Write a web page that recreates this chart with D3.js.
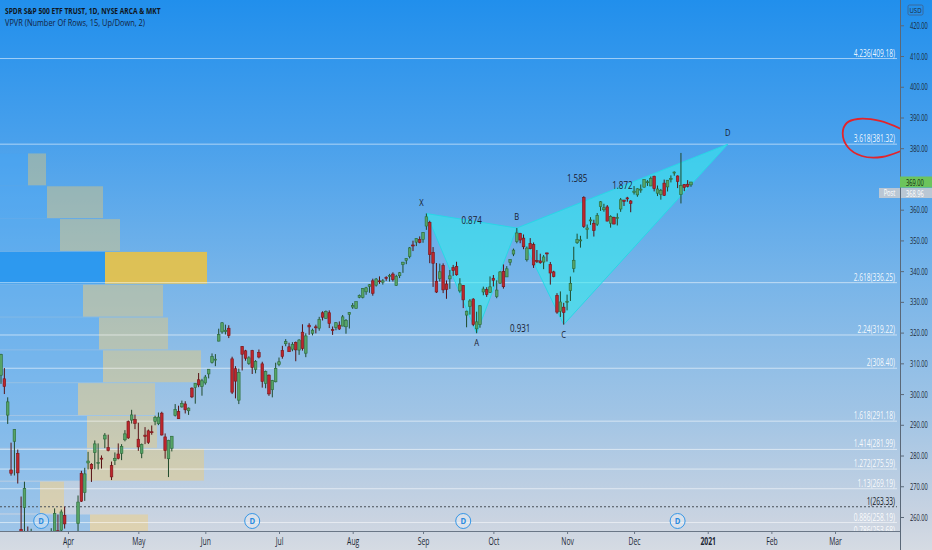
<!DOCTYPE html>
<html>
<head>
<meta charset="utf-8">
<script src="https://cdn.jsdelivr.net/npm/d3@7"></script>
<style>
  body { margin: 0; background: #d6dce4; }
  svg { display: block; font-family: "Open Sans", sans-serif; }
</style>
</head>
<body>
<div id="chart"></div>
<script>
// SPY daily candles, 2 Mar 2020 .. 24 Dec 2020 (index 0 = 2 Mar, 22 = 1 Apr)
const days = [
  "03-02","03-03","03-04","03-05","03-06","03-09","03-10","03-11","03-12","03-13","03-16","03-17","03-18","03-19","03-20","03-23","03-24","03-25","03-26","03-27","03-30","03-31",
  "04-01","04-02","04-03","04-06","04-07","04-08","04-09","04-13","04-14","04-15","04-16","04-17","04-20","04-21","04-22","04-23","04-24","04-27","04-28","04-29","04-30",
  "05-01","05-04","05-05","05-06","05-07","05-08","05-11","05-12","05-13","05-14","05-15","05-18","05-19","05-20","05-21","05-22","05-26","05-27","05-28","05-29",
  "06-01","06-02","06-03","06-04","06-05","06-08","06-09","06-10","06-11","06-12","06-15","06-16","06-17","06-18","06-19","06-22","06-23","06-24","06-25","06-26","06-29","06-30",
  "07-01","07-02","07-06","07-07","07-08","07-09","07-10","07-13","07-14","07-15","07-16","07-17","07-20","07-21","07-22","07-23","07-24","07-27","07-28","07-29","07-30","07-31",
  "08-03","08-04","08-05","08-06","08-07","08-10","08-11","08-12","08-13","08-14","08-17","08-18","08-19","08-20","08-21","08-24","08-25","08-26","08-27","08-28","08-31",
  "09-01","09-02","09-03","09-04","09-08","09-09","09-10","09-11","09-14","09-15","09-16","09-17","09-18","09-21","09-22","09-23","09-24","09-25","09-28","09-29","09-30",
  "10-01","10-02","10-05","10-06","10-07","10-08","10-09","10-12","10-13","10-14","10-15","10-16","10-19","10-20","10-21","10-22","10-23","10-26","10-27","10-28","10-29","10-30",
  "11-02","11-03","11-04","11-05","11-06","11-09","11-10","11-11","11-12","11-13","11-16","11-17","11-18","11-19","11-20","11-23","11-24","11-25","11-27","11-30",
  "12-01","12-02","12-03","12-04","12-07","12-08","12-09","12-10","12-11","12-14","12-15","12-16","12-17","12-18","12-21","12-22","12-23","12-24"
];
const open = [
  298.21,309.50,306.12,304.98,293.15,275.30,284.64,280.70,256.00,263.09,241.18,245.04,236.25,239.25,242.53,228.19,234.42,244.87,249.52,255.52,255.70,260.56,
  247.98,245.19,250.76,257.84,274.21,267.96,277.58,277.14,280.98,277.57,279.15,285.38,282.61,276.73,278.35,280.49,280.73,285.12,291.02,291.53,291.71,
  285.31,280.74,286.64,288.04,287.75,291.09,290.34,293.79,286.06,278.95,282.37,293.05,294.35,295.82,296.79,294.57,301.93,302.12,304.65,302.46,
  303.62,306.55,310.24,311.11,317.23,320.22,320.30,321.42,311.46,308.24,298.02,315.48,314.07,310.01,314.17,307.99,313.49,309.84,303.47,306.16,301.41,303.99,
  309.57,314.24,316.37,315.38,314.61,316.84,314.31,320.13,313.30,322.41,319.79,321.88,321.43,326.45,324.62,326.47,320.95,321.63,322.43,322.12,321.90,325.90,
  328.32,327.86,331.47,331.48,333.28,335.06,336.85,335.44,336.84,336.41,337.94,338.34,339.05,335.36,338.51,342.12,343.53,344.76,348.51,349.44,350.35,
  350.35,354.67,355.87,346.13,336.71,337.55,341.82,335.82,337.49,341.12,341.51,333.56,335.37,325.70,328.57,330.90,321.22,322.58,333.22,333.97,333.09,
  337.69,331.70,336.06,339.91,338.12,342.85,345.56,349.59,352.28,350.75,343.71,348.96,348.65,343.46,343.33,342.96,345.93,342.13,339.76,332.10,326.91,328.28,
  330.20,333.69,340.86,349.24,349.93,363.97,353.49,356.40,355.58,355.27,360.98,359.97,360.91,355.60,357.50,357.28,360.21,363.13,363.84,362.83,
  365.57,364.82,366.68,367.32,369.02,367.72,370.88,365.37,364.90,368.64,367.40,369.82,371.94,370.97,364.97,368.21,368.28,368.08
];
const high = [
  309.16,313.84,313.10,308.47,298.94,284.19,288.52,281.94,266.66,271.48,256.90,256.17,248.37,247.38,244.47,229.68,244.10,256.35,262.80,260.81,262.43,263.33,
  249.24,252.68,253.32,267.00,275.03,276.00,281.20,277.51,284.90,283.94,280.03,287.30,286.79,278.04,281.00,283.94,283.70,288.27,291.40,294.88,293.32,
  290.66,283.90,289.25,288.46,289.78,292.95,294.00,294.24,287.19,285.11,286.33,296.75,296.21,297.87,297.67,295.63,302.19,303.57,306.84,304.96,
  306.21,308.13,313.22,313.00,321.27,323.41,322.59,322.39,312.15,309.08,308.28,315.64,314.39,312.30,314.38,311.05,314.50,310.51,307.64,306.39,304.61,310.20,
  311.89,315.70,317.88,316.70,316.89,317.10,317.88,322.71,319.76,323.04,321.28,322.57,325.13,326.93,327.20,327.23,321.99,323.41,323.64,325.73,324.41,326.63,
  329.62,330.06,332.39,334.46,334.88,335.77,337.54,337.77,338.29,337.42,338.34,339.10,339.61,338.80,339.72,343.00,344.21,347.86,349.90,350.72,351.30,
  352.71,358.75,356.38,347.83,342.64,342.46,342.53,336.97,340.38,342.02,343.06,337.70,335.49,327.13,330.90,331.20,326.80,328.98,334.96,334.77,338.28,
  338.74,337.02,339.96,342.17,341.63,343.85,347.35,354.02,352.47,351.93,348.02,350.75,349.33,346.88,345.67,345.24,345.99,342.98,340.12,332.84,333.40,329.69,
  332.36,338.25,347.94,352.19,351.51,364.38,355.18,357.56,356.72,358.90,362.78,361.92,361.50,358.18,357.72,358.82,363.81,363.16,364.18,363.12,
  367.68,366.96,368.19,369.85,369.62,370.78,371.05,367.86,366.74,369.80,369.59,371.16,372.46,371.15,378.46,368.33,369.62,369.03
];
const low = [
  294.46,297.57,303.33,300.01,290.28,273.45,273.50,270.89,247.68,248.52,237.36,237.07,228.02,232.22,228.50,218.26,233.80,239.75,249.05,251.05,253.53,256.22,
  244.53,244.59,245.22,248.17,264.89,265.25,275.47,271.41,275.51,275.46,275.76,282.40,281.35,272.02,276.91,278.75,278.50,284.62,285.40,290.41,288.59,
  281.52,279.13,283.71,283.78,286.76,289.86,289.88,286.52,278.97,272.99,281.34,292.70,291.95,295.57,293.69,293.22,298.69,296.87,302.24,299.47,
  303.06,305.10,309.94,309.08,317.16,319.63,319.39,318.22,300.01,298.60,296.74,307.67,310.86,309.51,306.53,306.75,311.61,302.10,301.88,299.42,298.93,303.82,
  309.07,311.51,315.56,313.87,313.93,310.68,312.76,314.13,312.00,319.27,319.09,319.74,320.62,323.94,324.50,321.48,319.25,320.77,320.85,322.08,319.64,321.33,
  327.73,327.86,331.18,331.13,332.30,332.96,332.01,334.98,335.85,335.62,336.85,336.61,336.62,335.22,337.75,339.45,342.27,344.17,346.53,348.15,349.06,
  349.24,353.43,342.59,334.87,332.88,336.61,332.85,331.00,334.22,338.47,338.52,332.99,327.97,321.73,325.86,322.10,319.80,321.58,332.15,331.62,332.88,
  335.01,331.19,335.90,334.31,338.09,341.86,344.89,349.06,349.09,347.14,343.13,347.10,341.04,342.64,342.40,340.65,343.13,335.62,337.99,326.13,325.09,322.60,
  327.24,330.29,339.59,348.86,347.65,354.06,350.51,355.06,351.26,354.71,359.59,359.33,356.24,354.15,355.25,354.87,359.29,361.20,362.58,359.17,
  364.93,364.20,365.50,367.22,367.72,367.67,365.95,364.43,363.26,364.47,365.92,368.87,371.05,367.02,362.03,366.03,367.22,367.45
];
const close = [
  309.09,300.24,312.86,302.46,297.46,274.23,288.42,274.36,248.11,269.32,239.85,252.80,240.00,240.51,228.80,222.95,243.15,246.79,261.20,253.42,261.65,257.75,
  246.15,251.83,248.19,264.86,265.13,274.03,278.20,275.66,283.79,277.76,279.10,286.64,281.59,273.04,279.10,279.08,282.97,287.05,285.73,293.21,290.48,
  282.79,283.57,286.19,284.25,287.68,292.44,292.50,286.67,281.60,284.97,286.28,295.00,291.97,296.93,294.88,295.44,299.08,303.53,302.97,304.32,
  305.55,308.08,312.18,311.36,319.34,323.20,320.79,319.00,300.61,304.21,307.05,312.96,311.66,311.78,308.64,310.62,312.05,304.09,307.35,300.05,304.46,308.36,
  310.52,312.23,317.05,313.78,316.18,314.38,317.59,314.84,318.92,321.85,320.79,321.72,324.32,325.01,326.86,322.96,320.88,323.22,321.17,325.12,323.96,326.52,
  328.79,330.06,332.11,334.33,334.57,335.57,332.80,337.44,336.83,336.84,337.91,338.64,337.23,338.28,339.48,342.92,344.12,347.57,348.33,350.58,349.31,
  352.60,357.70,345.39,342.57,333.21,339.79,333.89,334.06,338.46,340.17,338.82,335.84,330.65,326.97,330.30,322.64,323.50,328.73,334.19,332.37,334.89,
  337.04,333.84,339.76,334.93,340.76,343.78,346.85,352.43,350.13,347.93,347.50,347.29,342.01,343.38,342.73,344.61,345.78,339.39,338.22,326.66,329.98,326.54,
  330.20,336.03,343.54,350.24,350.16,354.56,354.04,356.67,353.21,358.10,362.57,360.62,356.28,357.78,355.33,357.46,363.22,362.66,363.67,362.06,
  366.02,366.79,366.69,369.85,369.09,370.17,366.85,366.73,366.30,364.66,369.59,370.17,372.24,369.18,367.86,367.24,367.57,369.00
];
const firstDayOffset = -22;   // 2 Mar sits 22 sessions before 1 Apr

// time axis: month labels and their session index (1 Apr = 0)
const monthLabels = ["Apr","May","Jun","Jul","Aug","Sep","Oct","Nov","Dec","2021","Feb","Mar"];
const monthStart  = [0, 21, 41, 63, 85, 106, 127, 149, 169, 191, 210, 229];

// price axis ticks
const priceTicks = d3.range(260, 421, 10);
const lastClose = 369.00, postPrice = 368.96;

// VPVR, 15 rows from 218.26 to 378.46, bottom row first (M shares)
const vpLow = 218.26, vpHigh = 378.46;
const vpUp   = [620, 540, 700, 900, 400, 870, 870, 780, 1030, 990, 830, 1050, 600, 470, 280];
const vpDown = [480, 560, 450, 580, 240, 1170, 700, 770, 980, 690, 800, 1020, 600, 560, 180];

// fibonacci extension levels
const fibRatios = ["0.786", "0.886", "1", "1.13", "1.272", "1.414", "1.618", "2", "2.24", "2.618", "3.618", "4.236"];
const fibPrices = [253.68, 258.19, 263.33, 269.19, 275.59, 281.99, 291.18, 308.40, 319.22, 336.25, 381.32, 409.18];

// XABCD pattern
const patLabels = ["X", "A", "B", "C", "D"];
const patIdx    = [107, 122, 134, 148, 197];
const patPrice  = [358.75, 319.80, 354.02, 322.60, 381.32];
const patRatios = ["0.874", "0.931", "1.585", "1.872"];
const patRatioPairs = [[0, 2], [1, 3], [0, 4], [2, 4]];

// dividend markers (session index)
const divIdx = [-8, 55, 118, 182];

// hand drawn red loop round the 3.618 level (session index, price)
const loopIdx   = [248.7, 242.4, 235.8, 232.5, 231.3, 232.8, 237.0, 243.0, 248.7];
const loopPrice = [386.25, 388.86, 389.51, 388.2, 384.95, 380.4, 377.47, 377.14, 379.1];

// ---------------------------------------------------------------
const W = 932, H = 550, PR = 900, PB = 531;
const SX = 0.68;   // labels in the picture are narrow

const x = d3.scaleLinear().domain([-20.3, 248.4]).range([0, PR]);
const y = d3.scaleLinear().domain([255.44, 428.23]).range([PB, 0]);
const vx = d3.scaleLinear().domain([0, 2070]).range([0, 207]);

const svg = d3.select("#chart").append("svg")
    .attr("width", W)
    .attr("height", H);

const defs = svg.append("defs");
const grad = defs.append("linearGradient").attr("id", "bg")
    .attr("x1", 0).attr("y1", 0).attr("x2", 0).attr("y2", 1);
[[0, "rgb(33,143,236)"], [0.25, "rgb(72,160,236)"], [0.5, "rgb(118,180,233)"],
 [0.75, "rgb(160,196,229)"], [0.95, "rgb(203,212,225)"], [1, "rgb(213,219,227)"]]
  .forEach(([o, c]) => grad.append("stop").attr("offset", o).attr("stop-color", c));
defs.append("clipPath").attr("id", "plotclip")
  .append("rect").attr("width", PR).attr("height", PB);

svg.append("rect").attr("width", W).attr("height", H).attr("fill", "url(#bg)");

function label(parent, px, py, str, o = {}) {
  return parent.append("text")
    .attr("transform", `translate(${px},${py}) scale(${o.sx || SX},1)`)
    .attr("text-anchor", o.anchor || "start")
    .attr("font-size", o.size || 9)
    .attr("font-weight", o.weight || "normal")
    .attr("fill", o.fill || "#131722")
    .text(str);
}

const plot = svg.append("g").attr("clip-path", "url(#plotclip)");

// volume profile
const rowH = (vpHigh - vpLow) / vpUp.length;
const poc = d3.maxIndex(vpUp, (d, i) => d + vpDown[i]);
const vp = plot.append("g");
vpUp.forEach((u, i) => {
  const top = y(vpLow + (i + 1) * rowH), bot = y(vpLow + i * rowH);
  const hot = i === poc;
  vp.append("rect").attr("x", 0).attr("y", top + 0.5).attr("width", vx(u)).attr("height", bot - top - 1)
    .attr("fill", hot ? "rgba(33,148,240,0.85)" : "rgba(70,165,246,0.35)");
  vp.append("rect").attr("x", vx(u)).attr("y", top + 0.5).attr("width", vx(vpDown[i])).attr("height", bot - top - 1)
    .attr("fill", hot ? "rgba(240,195,60,0.85)" : "rgba(251,205,100,0.38)");
});

// fib lines
fibPrices.forEach((p, i) => {
  const one = fibRatios[i] === "1";
  plot.append("line")
    .attr("x1", 0).attr("x2", PR - 3)
    .attr("y1", y(p)).attr("y2", y(p))
    .attr("stroke", one ? "#4a4f57" : "rgba(255,255,255,0.55)")
    .attr("stroke-width", 1)
    .attr("stroke-dasharray", one ? "2,2" : null);
  label(plot, PR - 5, y(p) - 2, `${fibRatios[i]}(${p.toFixed(2)})`,
    { anchor: "end", size: 10, sx: 0.66, fill: one ? "#15191f" : "rgba(255,255,255,0.92)" });
});

// harmonic pattern triangles
const pt = i => [x(patIdx[i]), y(patPrice[i])];
const pat = plot.append("g");
[[0, 1, 2], [2, 3, 4]].forEach(tri => {
  pat.append("path")
    .attr("d", d3.line()(tri.map(pt)) + "Z")
    .attr("fill", "rgb(54,236,236)")
    .attr("fill-opacity", 0.58)
    .attr("stroke", "rgb(40,215,230)")
    .attr("stroke-width", 1);
});

// candles
const candles = plot.append("g");
days.forEach((d, i) => {
  const cx = x(i + firstDayOffset);
  const up = close[i] >= open[i];
  candles.append("line")
    .attr("x1", cx).attr("x2", cx)
    .attr("y1", y(high[i])).attr("y2", y(low[i]))
    .attr("stroke", up ? "#1f4a2b" : "#561014")
    .attr("stroke-width", 1);
  const top = y(Math.max(open[i], close[i]));
  const h = Math.max(1, Math.abs(y(open[i]) - y(close[i])));
  candles.append("rect")
    .attr("x", cx - 1.3).attr("y", top)
    .attr("width", 2.6).attr("height", h)
    .attr("fill", up ? "#56a366" : "#bd262c")
    .attr("stroke", up ? "#2b6a3a" : "#7a1518")
    .attr("stroke-width", 0.6);
});

// pattern labels
patLabels.forEach((l, i) => {
  const [px, py] = pt(i);
  const above = (i % 2 === 0);
  label(plot, px - (i === 0 ? 5 : 0), above ? py - 8 : py + 13, l,
    { anchor: "middle", size: 9.5, fill: "#1a2030", sx: 0.8 });
});
patRatios.forEach((r, k) => {
  const [a, b] = patRatioPairs[k];
  const [x1, y1] = pt(a), [x2, y2] = pt(b);
  label(plot, (x1 + x2) / 2, (y1 + y2) / 2 + 3, r, { anchor: "middle", size: 10, fill: "#1a2030", sx: 0.8 });
});

// red loop annotation
plot.append("path")
  .attr("d", d3.line().curve(d3.curveCatmullRom)(loopIdx.map((v, i) => [x(v), y(loopPrice[i])])))
  .attr("fill", "none")
  .attr("stroke", "#e3242b")
  .attr("stroke-width", 1.8)
  .attr("stroke-linecap", "round");

// dividend markers
divIdx.forEach(d => {
  const g = plot.append("g").attr("transform", `translate(${x(d)},${PB - 10})`);
  g.append("circle").attr("r", 7.5).attr("fill", "rgba(255,255,255,0.3)").attr("stroke", "#3596e6").attr("stroke-width", 1);
  label(g, 0, 3, "D", { anchor: "middle", size: 8.5, weight: "bold", fill: "#2a8ae0", sx: 0.9 });
});

// bottom axis
const xAxis = svg.append("g")
  .attr("transform", `translate(0,${PB})`)
  .call(d3.axisBottom(x).tickValues(monthStart).tickSize(3).tickPadding(4)
    .tickFormat((d, i) => monthLabels[i]));
xAxis.select(".domain").remove();
xAxis.selectAll("line").attr("stroke", "#6a7686");
xAxis.selectAll("text")
  .attr("font-size", 10).attr("fill", "#1b2735")
  .attr("font-family", "Open Sans, sans-serif")
  .attr("transform", `scale(${SX},1)`)
  .attr("font-weight", (d, i) => monthLabels[i] === "2021" ? "bold" : "normal");
svg.append("line").attr("x1", 0).attr("x2", PR).attr("y1", PB + 0.5).attr("y2", PB + 0.5)
  .attr("stroke", "#6a7686");

// right axis
const yAxis = svg.append("g")
  .attr("transform", `translate(${PR},0)`)
  .call(d3.axisRight(y)
    .tickValues(priceTicks.filter(v => Math.abs(y(v) - y(lastClose)) > 8))
    .tickSize(4).tickFormat(d3.format(".2f")));
yAxis.select(".domain").remove();
yAxis.selectAll("line").attr("stroke", "#5a6878");
yAxis.selectAll("text")
  .attr("font-size", 9.5).attr("fill", "#1b2735")
  .attr("font-family", "Open Sans, sans-serif")
  .attr("x", 10 / 0.6)
  .attr("transform", "scale(0.6,1)");
svg.append("line").attr("x1", PR + 0.5).attr("x2", PR + 0.5).attr("y1", 0).attr("y2", H)
  .attr("stroke", "#5a6878");

// last price and post market labels
const yl = y(lastClose);
svg.append("rect").attr("x", PR).attr("y", yl - 5.5).attr("width", W - PR).attr("height", 11).attr("fill", "#6cc45c");
label(svg, PR + 6, yl + 3.5, lastClose.toFixed(2), { size: 9.5, sx: 0.6, fill: "#10240f" });
const yp = yl + 11;
svg.append("rect").attr("x", PR - 21).attr("y", yp - 5).attr("width", 21).attr("height", 10).attr("fill", "rgba(196,202,210,0.9)");
svg.append("rect").attr("x", PR + 1).attr("y", yp - 5).attr("width", W - PR - 1).attr("height", 10).attr("fill", "rgba(196,202,210,0.9)");
label(svg, PR - 10.5, yp + 3, "Post", { anchor: "middle", size: 8.5, fill: "#ffffff" });
label(svg, PR + 6, yp + 3.5, postPrice.toFixed(2), { size: 9.5, sx: 0.6, fill: "#ffffff" });

// currency box
svg.append("rect").attr("x", 908).attr("y", 5).attr("width", 15).attr("height", 10).attr("rx", 1.5)
  .attr("fill", "none").attr("stroke", "#40608a").attr("stroke-width", 0.8);
label(svg, 915.5, 12.5, "USD", { anchor: "middle", size: 7.5, fill: "#1b2735", sx: 0.8 });

// header
label(svg, 5, 13.5, "SPDR S&P 500 ETF TRUST, 1D, NYSE ARCA & MKT", { size: 9.5, weight: "bold", fill: "#0f1622", sx: 0.7 });
label(svg, 5, 26, "VPVR (Number Of Rows, 15, Up/Down, 2)", { size: 9.5, fill: "#13233d", sx: 0.78 });
</script>
</body>
</html>
